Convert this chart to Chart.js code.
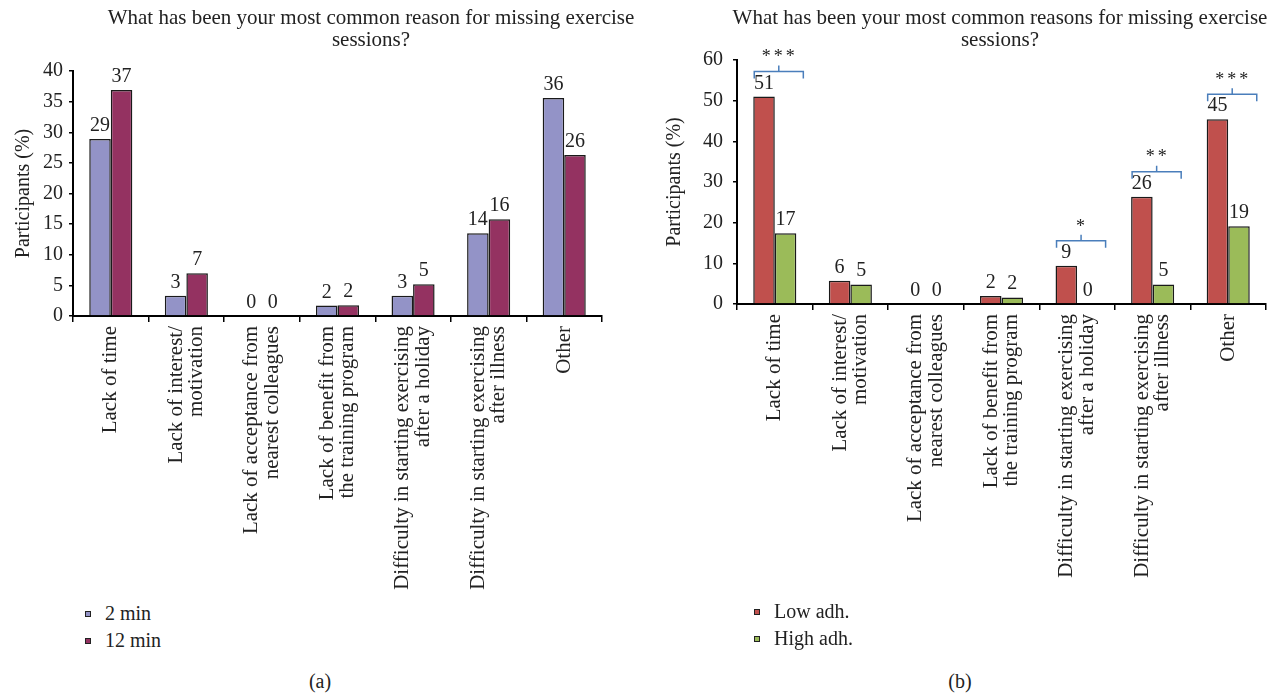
<!DOCTYPE html>
<html>
<head>
<meta charset="utf-8">
<script src="https://cdn.jsdelivr.net/npm/chart.js@4.4.0/dist/chart.umd.min.js"></script>
<style>
  body { margin: 0; background: #fff; width: 1276px; height: 694px; position: relative; overflow: hidden; font-family: "Liberation Serif", serif; color: #222; }
  canvas { position: absolute; top: 0; }
  #chartA { left: 0; }
  #chartB { left: 640px; }
  .legend { position: absolute; font-size: 20px; }
  .legend div { height: 27px; line-height: 27px; white-space: nowrap; }
  .legend .box { display: inline-block; width: 4px; height: 4px; border: 1px solid #222; margin-right: 14px; vertical-align: middle; position: relative; top: -1px; }
  #legendA { left: 85px; top: 600px; }
  #legendB { left: 754px; top: 598px; }
  .caption { position: absolute; top: 670px; font-size: 20px; width: 60px; text-align: center; }
</style>
</head>
<body>
<canvas id="chartA" width="640" height="600"></canvas>
<canvas id="chartB" width="636" height="600"></canvas>
<div class="legend" id="legendA"></div>
<div class="legend" id="legendB"></div>
<div class="caption" style="left:290px">(a)</div>
<div class="caption" style="left:930px">(b)</div>
<script>
const reasons = [
  'Lack of time',
  ['Lack of interest/', 'motivation'],
  ['Lack of acceptance from', 'nearest colleagues'],
  ['Lack of benefit from', 'the training program'],
  ['Difficulty in starting exercising', 'after a holiday'],
  ['Difficulty in starting exercising', 'after illness'],
  'Other',
];

// (a) session length groups, % of participants
const twoMin = [28.9, 3.3, 0, 1.7, 3.3, 13.5, 35.6];
const twelveMin = [36.9, 7.0, 0, 1.75, 5.2, 15.8, 26.3];
const twoMinLabels = ['29', '3', '0', '2', '3', '14', '36'];
const twelveMinLabels = ['37', '7', '0', '2', '5', '16', '26'];

// (b) adherence groups, % of participants
const lowAdh = [51.0, 5.7, 0, 1.95, 9.4, 26.4, 45.4];
const highAdh = [17.4, 4.8, 0, 1.6, 0, 4.8, 19.1];
const lowAdhLabels = ['51', '6', '0', '2', '9', '26', '45'];
const highAdhLabels = ['17', '5', '0', '2', '0', '5', '19'];

// significance brackets in (b)
const sigCategories = [0, 4, 5, 6];
const sigStars = ['***', '*', '**', '***'];

const FONT = '"Liberation Serif", "Times New Roman", serif';
const INK = '#222';

const topTitle = {
  id: 'topTitle',
  afterDraw(chart, args, opts) {
    const ctx = chart.ctx;
    ctx.save();
    ctx.font = `21px ${FONT}`;
    ctx.fillStyle = INK;
    ctx.textAlign = 'center';
    ctx.textBaseline = 'middle';
    opts.lines.forEach((t, i) => ctx.fillText(t, opts.x, opts.y + i * 22));
    ctx.restore();
  }
};

// two-line rotated tick labels: center the pair on the category
const centerTickLines = {
  id: 'centerTickLines',
  beforeDraw(chart) {
    chart.scales.x.getLabelItems().forEach((item) => {
      if (item._centered) return;
      const lines = Array.isArray(item.label) ? item.label.length : 1;
      item.options.translation[0] -= (lines - 1) * item.font.lineHeight / 2;
      item._centered = true;
    });
  }
};

const valueLabels = {
  id: 'valueLabels',
  afterDatasetsDraw(chart, args, opts) {
    const ctx = chart.ctx;
    ctx.save();
    ctx.font = `20px ${FONT}`;
    ctx.fillStyle = INK;
    ctx.textAlign = 'center';
    ctx.textBaseline = 'alphabetic';
    opts.labels.forEach((list, i) => {
      chart.getDatasetMeta(i).data.forEach((bar, j) => {
        ctx.fillText(list[j], bar.x, bar.y - opts.gap);
      });
    });
    ctx.restore();
  }
};

const sigBrackets = {
  id: 'sigBrackets',
  afterDatasetsDraw(chart, args, opts) {
    if (!opts.categories) return;
    const ctx = chart.ctx;
    const m0 = chart.getDatasetMeta(0).data;
    const m1 = chart.getDatasetMeta(1).data;
    ctx.save();
    opts.categories.forEach((idx, k) => {
      const a = m0[idx], b = m1[idx];
      const y = Math.min(a.y, b.y) - 25;
      const left = a.x - a.width / 2 + 1;
      const right = b.x + b.width / 2 + 7;
      const mid = (left + right) / 2;
      ctx.strokeStyle = '#4a7ebb';
      ctx.lineWidth = 1.5;
      ctx.beginPath();
      ctx.moveTo(left, y + 7);
      ctx.lineTo(left, y);
      ctx.lineTo(right, y);
      ctx.lineTo(right, y + 7);
      ctx.moveTo(mid, y);
      ctx.lineTo(mid, y - 6);
      ctx.stroke();
      ctx.font = `18px ${FONT}`;
      ctx.letterSpacing = '3px';
      ctx.fillStyle = INK;
      ctx.textAlign = 'center';
      ctx.textBaseline = 'middle';
      ctx.fillText(opts.stars[k], mid + 1, y - 14);
    });
    ctx.restore();
  }
};

function makeChart(id, cfg) {
  return new Chart(document.getElementById(id), {
    type: 'bar',
    data: {
      labels: reasons,
      datasets: cfg.series.map((s) => ({
        label: s.name,
        data: s.data,
        backgroundColor: s.color,
        borderColor: '#1a1a1a',
        borderWidth: 1.5,
        categoryPercentage: 0.57,
        barPercentage: 1.0,
      })),
    },
    options: {
      responsive: false,
      animation: false,
      layout: { padding: { top: cfg.top, right: cfg.right, left: 0, bottom: 0 } },
      plugins: {
        legend: { display: false },
        tooltip: { enabled: false },
        topTitle: { lines: cfg.title, x: cfg.titleX, y: 18 },
        valueLabels: { labels: cfg.series.map((s) => s.labels), gap: 8 },
        sigBrackets: cfg.sig || {},
      },
      scales: {
        x: {
          grid: { drawOnChartArea: false, drawTicks: true, tickLength: 6, color: '#000', lineWidth: 1.5 },
          border: { color: '#000', width: 2 },
          ticks: {
            autoSkip: false, maxRotation: 90, minRotation: 90, padding: 4,
            color: INK, font: { family: FONT, size: 21, lineHeight: 0.97 },
          },
          afterFit(scale) { scale.height = cfg.xHeight; },
        },
        y: {
          min: 0, max: cfg.max,
          ticks: { stepSize: cfg.step, padding: cfg.tickPad, color: INK, font: { family: FONT, size: 20 } },
          grid: { drawOnChartArea: false, drawTicks: true, tickLength: 4, color: '#000', lineWidth: 1.5 },
          border: { color: '#000', width: 2 },
          title: {
            display: true, text: 'Participants (%)', color: INK,
            font: { family: FONT, size: 20 }, padding: { top: cfg.yTitlePad, bottom: 0 },
          },
          afterFit(scale) { scale.width = cfg.yWidth; },
        },
      },
    },
    plugins: [topTitle, centerTickLines, valueLabels, sigBrackets],
  });
}

function fillLegend(elId, chart) {
  const box = document.getElementById(elId);
  chart.data.datasets.forEach((ds) => {
    const row = document.createElement('div');
    row.innerHTML = `<span class="box" style="background:${ds.backgroundColor}"></span>${ds.label}`;
    box.appendChild(row);
  });
}

const chartA = makeChart('chartA', {
  series: [
    { name: '2 min', data: twoMin, labels: twoMinLabels, color: '#9393c7' },
    { name: '12 min', data: twelveMin, labels: twelveMinLabels, color: '#943261' },
  ],
  title: ['What has been your most common reason for missing exercise', 'sessions?'],
  titleX: 371,
  max: 40, step: 5,
  top: 71, right: 38, xHeight: 284, yWidth: 73, tickPad: 6, yTitlePad: 12,
});

const chartB = makeChart('chartB', {
  series: [
    { name: 'Low adh.', data: lowAdh, labels: lowAdhLabels, color: '#c0504d' },
    { name: 'High adh.', data: highAdh, labels: highAdhLabels, color: '#9bbb59' },
  ],
  title: ['What has been your most common reasons for missing exercise', 'sessions?'],
  titleX: 360,
  max: 60, step: 10,
  top: 60, right: 10, xHeight: 296, yWidth: 97, tickPad: 10, yTitlePad: 23,
  sig: { categories: sigCategories, stars: sigStars },
});

fillLegend('legendA', chartA);
fillLegend('legendB', chartB);
</script>
</body>
</html>
